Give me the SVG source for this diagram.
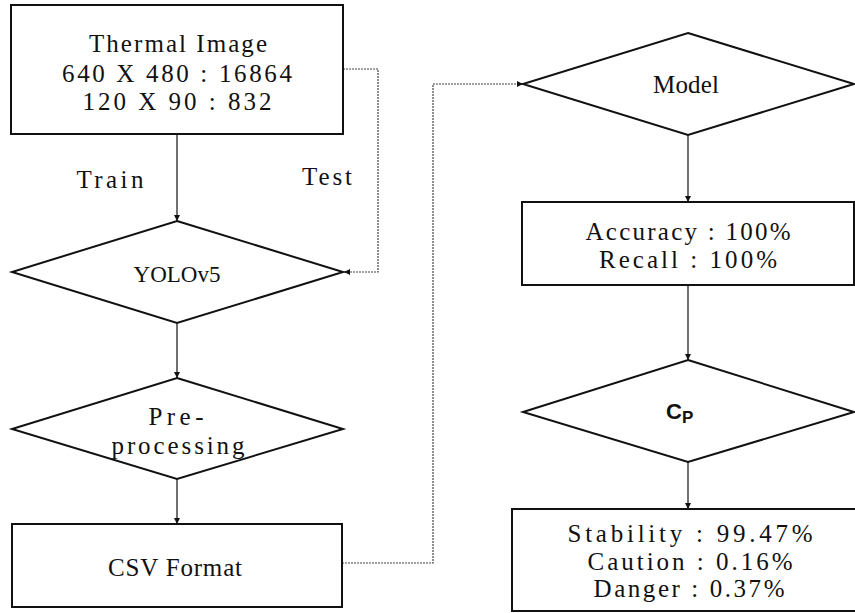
<svg xmlns="http://www.w3.org/2000/svg" width="855" height="613" viewBox="0 0 855 613">
<style>
.box{fill:#fff;stroke:#111;stroke-width:2}
.t{font-family:"Liberation Serif",serif;font-size:25px;fill:#111;text-anchor:middle}
.c{fill:none;stroke:#111;stroke-width:1.2}
.d{fill:none;stroke:#444;stroke-width:1.2;stroke-dasharray:2,1}
</style>
<defs>
<marker id="ah" viewBox="0 0 6 6" refX="6" refY="3" markerWidth="6" markerHeight="6" markerUnits="userSpaceOnUse" orient="auto">
<path d="M0,0 L6,3 L0,6 z" fill="#111"/>
</marker>
</defs>
<rect width="855" height="613" fill="#fff"/>
<g id="connectors">
<path class="c" d="M177,134 V221" marker-end="url(#ah)"/>
<path class="d" d="M343,69 H378 V272 H344" marker-end="url(#ah)"/>
<path class="c" d="M177,323 V378" marker-end="url(#ah)"/>
<path class="c" d="M177,479 V524" marker-end="url(#ah)"/>
<path class="d" d="M342,563 H433 V84 H523" marker-end="url(#ah)"/>
<path class="c" d="M688,135 V202" marker-end="url(#ah)"/>
<path class="c" d="M688,285 V360" marker-end="url(#ah)"/>
<path class="c" d="M688,462 V509" marker-end="url(#ah)"/>
<text class="t" x="110" y="188" textLength="67" lengthAdjust="spacing">Train</text>
<text class="t" x="327" y="185" textLength="50" lengthAdjust="spacing">Test</text>
</g>
<g id="thermal">
<rect class="box" x="11" y="5" width="332" height="129"/>
<text class="t" x="178" y="52" textLength="178" lengthAdjust="spacing">Thermal Image</text>
<text class="t" x="177" y="82" textLength="230" lengthAdjust="spacing">640 X 480 : 16864</text>
<text class="t" x="177" y="110" textLength="189" lengthAdjust="spacing">120 X 90 : 832</text>
</g>
<g id="yolo">
<polygon class="box" points="177,221 343,272 177,323 12,272"/>
<text class="t" x="177" y="282" style="font-size:23px">YOLOv5</text>
</g>
<g id="preprocessing">
<polygon class="box" points="177,378 343,429 177,479 12,429"/>
<text class="t" x="176" y="425" textLength="55" lengthAdjust="spacing">Pre-</text>
<text class="t" x="178" y="454" textLength="133" lengthAdjust="spacing">processing</text>
</g>
<g id="csv">
<rect class="box" x="12" y="524" width="330" height="83"/>
<text class="t" x="175" y="576" textLength="134" lengthAdjust="spacing">CSV Format</text>
</g>
<g id="model">
<polygon class="box" points="688,33 854,84 688,135 523,84"/>
<text class="t" x="686" y="93" textLength="66" lengthAdjust="spacing">Model</text>
</g>
<g id="accuracy">
<rect class="box" x="522" y="202" width="332" height="83"/>
<text class="t" x="688" y="240" textLength="205" lengthAdjust="spacing">Accuracy : 100%</text>
<text class="t" x="688" y="268" textLength="178" lengthAdjust="spacing">Recall : 100%</text>
</g>
<g id="cp">
<polygon class="box" points="688,360 854,412 688,462 523,412"/>
<text x="666" y="419" font-family="Liberation Sans, sans-serif" font-weight="bold" font-size="22" fill="#111">C<tspan font-size="17" dy="4">P</tspan></text>
</g>
<g id="result">
<rect class="box" x="512" y="509" width="350" height="102"/>
<text class="t" x="690" y="542" textLength="245" lengthAdjust="spacing">Stability : 99.47%</text>
<text class="t" x="690" y="570" textLength="205" lengthAdjust="spacing">Caution : 0.16%</text>
<text class="t" x="689" y="597" textLength="191" lengthAdjust="spacing">Danger : 0.37%</text>
</g>
</svg>
